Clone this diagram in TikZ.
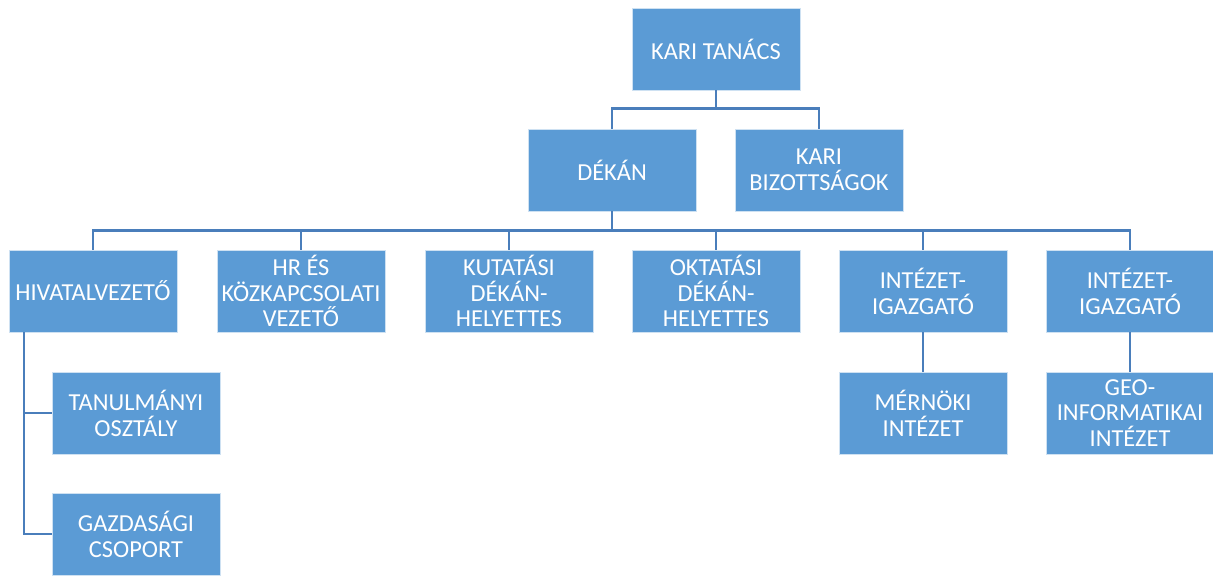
\documentclass[tikz,border=0pt]{standalone}
\usepackage{fontspec}
\setmainfont{Carlito}
\usetikzlibrary{positioning}
\definecolor{boxblue}{HTML}{5B9BD5}
\definecolor{lineblue}{HTML}{4A7EBB}
\begin{document}
\begin{tikzpicture}[x=0.75pt,y=0.75pt,
    orgbox/.style={fill=boxblue, draw=white!70!boxblue, line width=0.6pt, text=white, align=center,
        minimum width=168*0.75pt, minimum height=82*0.75pt, inner sep=1pt,
        font=\fontsize{18.3}{19.4}\selectfont},
    conn/.style={draw=lineblue, line width=2pt}]
        \useasboundingbox (0,0) rectangle (1213,575);
        %
        \node[orgbox] (kt) at (716,526) {KARI TANÁCS};
        \node[orgbox] (dekan) at (612,405) {DÉKÁN};
        \node[orgbox] (biz) at (819,405) {KARI\\BIZOTTSÁGOK};
        %
        \node[orgbox] (hiv) at (93,284) {HIVATALVEZETŐ};
        \node[orgbox] (hr) at (301,284) {HR ÉS\\KÖZKAPCSOLATI\\VEZETŐ};
        \node[orgbox] (kut) at (509,284) {KUTATÁSI\\DÉKÁN-\\HELYETTES};
        \node[orgbox] (okt) at (716,284) {OKTATÁSI\\DÉKÁN-\\HELYETTES};
        \node[orgbox] (int1) at (923,284) {INTÉZET-\\IGAZGATÓ};
        \node[orgbox] (int2) at (1130,284) {INTÉZET-\\IGAZGATÓ};
        %
        \node[orgbox] (tan) at (136,162) {TANULMÁNYI\\OSZTÁLY};
        \node[orgbox] (gazd) at (136,41) {GAZDASÁGI\\CSOPORT};
        \node[orgbox] (mern) at (923,162) {MÉRNÖKI\\INTÉZET};
        \node[orgbox] (geo) at (1130,162) {GEO-\\INFORMATIKAI\\INTÉZET};
        %
        \coordinate (trunk) at (24,0);
        %
        \draw[conn] (kt.south) -- ++(0,-18) -| (dekan.north);
        \draw[conn] (kt.south) -- ++(0,-18) -| (biz.north);
        \foreach \n in {hiv,hr,kut,okt,int1,int2}
            \draw[conn] (dekan.south) -- ++(0,-19) -| (\n.north);
        %
        \draw[conn] (hiv.south -| trunk) |- (tan.west);
        \draw[conn] (hiv.south -| trunk) |- (gazd.west);
        \draw[conn] (int1.south) -- (mern.north);
        \draw[conn] (int2.south) -- (geo.north);
\end{tikzpicture}
\end{document}
